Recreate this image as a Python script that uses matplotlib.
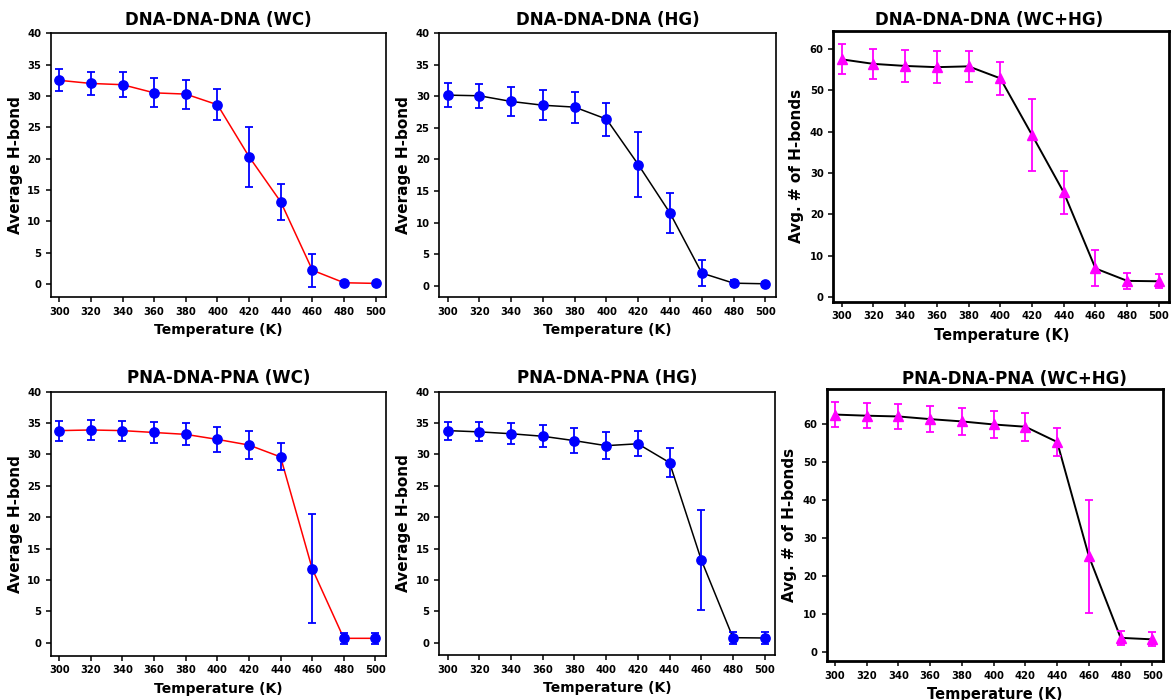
import matplotlib
matplotlib.use("Agg")
import matplotlib.pyplot as plt

plt.rcParams['font.family'] = ['DejaVu Sans']
plt.rcParams['font.weight'] = 'bold'

temperature = [300, 320, 340, 360, 380, 400, 420, 440, 460, 480, 500]

# DNA-DNA-DNA triplex
dna_wc = [32.5, 32.0, 31.8, 30.5, 30.3, 28.6, 20.3, 13.1, 2.2, 0.2, 0.1]
dna_wc_err = [1.75, 1.9, 2.0, 2.3, 2.3, 2.45, 4.8, 2.9, 2.6, 0.3, 0.2]
dna_hg = [30.2, 30.1, 29.2, 28.6, 28.3, 26.4, 19.2, 11.5, 2.0, 0.4, 0.3]
dna_hg_err = [1.95, 1.9, 2.25, 2.4, 2.45, 2.6, 5.1, 3.15, 2.0, 0.5, 0.3]
dna_tot = [57.5, 56.4, 55.9, 55.6, 55.8, 52.9, 39.2, 25.3, 6.9, 3.9, 3.8]
dna_tot_err = [3.65, 3.7, 3.8, 3.95, 3.8, 4.0, 8.7, 5.2, 4.35, 2.0, 1.7]

# PNA-DNA-PNA triplex
pna_wc = [33.8, 33.9, 33.8, 33.5, 33.2, 32.4, 31.5, 29.6, 11.8, 0.7, 0.7]
pna_wc_err = [1.6, 1.55, 1.6, 1.7, 1.75, 2.0, 2.25, 2.15, 8.7, 0.9, 0.85]
pna_hg = [33.8, 33.6, 33.3, 32.9, 32.2, 31.4, 31.7, 28.7, 13.2, 0.8, 0.75]
pna_hg_err = [1.45, 1.5, 1.65, 1.75, 1.95, 2.15, 2.0, 2.35, 8.0, 0.95, 0.9]
pna_tot = [62.4, 62.1, 61.9, 61.2, 60.6, 59.8, 59.2, 55.2, 25.2, 3.8, 3.4]
pna_tot_err = [3.3, 3.3, 3.4, 3.45, 3.45, 3.6, 3.65, 3.8, 14.8, 1.75, 1.85]

W, H = 1171, 700
fig = plt.figure(figsize=(W / 100, H / 100), dpi=100)


def rect(l, t, r, b):
    return [l / W, 1 - b / H, (r - l) / W, (b - t) / H]


def hbond_panel(box, y, err, line_color, title, ylim):
    ax = fig.add_axes(rect(*box))
    ax.plot(temperature, y, color=line_color, lw=1.1, zorder=2)
    ax.errorbar(temperature, y, yerr=err, fmt='o', color='blue', ms=6.7,
                elinewidth=1.3, capsize=3.2, capthick=1.3, zorder=3)
    ax.set_xlim(294.8, 506.5)
    ax.set_ylim(*ylim)
    ax.set_xticks(temperature)
    ax.set_yticks(range(0, 41, 5))
    ax.tick_params(labelsize=7.2, width=1.1, length=3.5)
    for lab in ax.get_xticklabels() + ax.get_yticklabels():
        lab.set_fontweight('bold')
    for s in ax.spines.values():
        s.set_linewidth(1.2)
    ax.set_title(title, fontsize=12, fontweight='bold', pad=6)
    ax.set_xlabel('Temperature (K)', fontsize=10, fontweight='bold', labelpad=4.5)
    ax.set_ylabel('Average H-bond', fontsize=11, fontweight='bold', labelpad=3)
    return ax


def total_panel(box, y, err, title, ylim, title_x):
    ax = fig.add_axes(rect(*box))
    ax.plot(temperature, y, color='black', lw=1.4, zorder=2)
    ax.errorbar(temperature, y, yerr=err, fmt='^', color='magenta', ms=7,
                elinewidth=1.3, capsize=3.2, capthick=1.3, zorder=3)
    ax.set_xlim(294.8, 506.5)
    ax.set_ylim(*ylim)
    ax.set_xticks(temperature)
    ax.set_yticks(range(0, 61, 10))
    ax.tick_params(labelsize=7.2, width=1.1, length=3.5)
    for lab in ax.get_xticklabels() + ax.get_yticklabels():
        lab.set_fontweight('bold')
    for s in ax.spines.values():
        s.set_linewidth(2.0)
    ax.set_title(title, fontsize=12, fontweight='bold', pad=4, x=title_x)
    ax.set_xlabel('Temperature (K)', fontsize=10.5, fontweight='bold', labelpad=4.5)
    ax.set_ylabel('Avg. # of H-bonds', fontsize=11, fontweight='bold', labelpad=4)
    return ax


hbond_panel((51, 33.3, 386, 297.3), dna_wc, dna_wc_err, 'red',
            'DNA-DNA-DNA (WC)', (-2.12, 40))
hbond_panel((439.3, 33.3, 775.7, 297.3), dna_hg, dna_hg_err, 'black',
            'DNA-DNA-DNA (HG)', (-1.84, 40))
total_panel((833.3, 31, 1169.3, 301.7), dna_tot, dna_tot_err,
            'DNA-DNA-DNA (WC+HG)', (-1.14, 64.35), 0.4635)

hbond_panel((51, 391.7, 385.7, 655.7), pna_wc, pna_wc_err, 'red',
            'PNA-DNA-PNA (WC)', (-2.07, 40))
hbond_panel((439.3, 391.7, 775, 655), pna_hg, pna_hg_err, 'black',
            'PNA-DNA-PNA (HG)', (-1.96, 40))
total_panel((826.7, 389.3, 1162.7, 661), pna_tot, pna_tot_err,
            'PNA-DNA-PNA (WC+HG)', (-2.28, 69.03), 0.559)

fig.savefig('out.png', dpi=100)
